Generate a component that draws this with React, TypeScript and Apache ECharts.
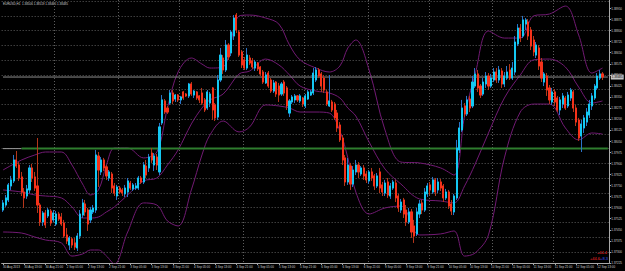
import React, { useEffect, useRef } from "react";
import * as echarts from "echarts";

const symbolTitle = "EURUSD,H1";
const timeLabels = [
  "30 Aug 2013", "30 Aug 13:00", "30 Aug 21:00", "2 Sep 05:00", "2 Sep 13:00", "2 Sep 21:00",
  "3 Sep 05:00", "3 Sep 13:00", "3 Sep 21:00", "4 Sep 05:00", "4 Sep 13:00", "4 Sep 21:00",
  "5 Sep 05:00", "5 Sep 13:00", "5 Sep 21:00", "6 Sep 05:00", "6 Sep 13:00", "6 Sep 21:00",
  "9 Sep 05:00", "9 Sep 13:00", "9 Sep 21:00", "10 Sep 05:00", "10 Sep 13:00", "10 Sep 21:00",
  "11 Sep 05:00", "11 Sep 13:00", "11 Sep 21:00", "12 Sep 05:00", "12 Sep 13:00",
];
const barsPerLabel = 8;
const slotCount = 229;

const open = [
  1.37584, 1.37618, 1.37652, 1.37747, 1.37781, 1.37923, 1.37889, 1.37808, 1.37706, 1.37679,
  1.3772, 1.37869, 1.37808, 1.37747, 1.37618, 1.37503, 1.37564, 1.37544, 1.37577, 1.37517,
  1.37489, 1.37557, 1.37537, 1.37496, 1.37415, 1.37347, 1.37388, 1.37361, 1.37327, 1.37408,
  1.3755, 1.37625, 1.37584, 1.37517, 1.37571, 1.37584, 1.3795, 1.37842, 1.37923, 1.37876,
  1.37801, 1.37828, 1.37747, 1.37679, 1.37733, 1.3772, 1.37693, 1.37706, 1.37767, 1.37727,
  1.37733, 1.37733, 1.37801, 1.37774, 1.37882, 1.37869, 1.3797, 1.37889, 1.37943, 1.37842,
  1.38174, 1.38323, 1.38275, 1.38309, 1.38377, 1.38336, 1.38363, 1.3833, 1.38384, 1.3837,
  1.38357, 1.38438, 1.38363, 1.38384, 1.38357, 1.38377, 1.3833, 1.38275, 1.38309, 1.38411,
  1.38296, 1.38214, 1.38465, 1.38614, 1.38533, 1.38702, 1.38648, 1.38763, 1.38905, 1.3879,
  1.38655, 1.38601, 1.38546, 1.38614, 1.38594, 1.38546, 1.3858, 1.38553, 1.38519, 1.38445,
  1.38512, 1.38465, 1.3839, 1.38451, 1.38424, 1.3837, 1.38451, 1.38411, 1.38241, 1.38316,
  1.3833, 1.38357, 1.38323, 1.38343, 1.38289, 1.38336, 1.38363, 1.38377, 1.38465, 1.38533,
  1.38506, 1.38478, 1.38384, 1.38289, 1.38316, 1.38302, 1.38241, 1.3816, 1.38072, 1.37937,
  1.37774, 1.37882, 1.3776, 1.37842, 1.37889, 1.37828, 1.37869, 1.37828, 1.37781, 1.37842,
  1.37815, 1.37747, 1.37842, 1.37754, 1.37699, 1.37774, 1.37679, 1.37733, 1.37767, 1.37679,
  1.37584, 1.37652, 1.37584, 1.37503, 1.37571, 1.37476, 1.37422, 1.37557, 1.37632, 1.37584,
  1.37693, 1.37754, 1.37706, 1.37788, 1.3772, 1.37774, 1.37747, 1.37666, 1.37706, 1.37625,
  1.37571, 1.37666, 1.37991, 1.38126, 1.38289, 1.38235, 1.38336, 1.38289, 1.38424, 1.38506,
  1.38424, 1.3837, 1.38438, 1.38492, 1.38424, 1.38465, 1.38519, 1.38465, 1.38526, 1.38438,
  1.38478, 1.38533, 1.38478, 1.38519, 1.38709, 1.38817, 1.38763, 1.38844, 1.38858, 1.38804,
  1.38736, 1.38634, 1.38682, 1.38587, 1.38451, 1.38492, 1.38411, 1.38316, 1.38384, 1.38343,
  1.38262, 1.38302, 1.38343, 1.38289, 1.38343, 1.38384, 1.38275, 1.38194, 1.38086, 1.3814,
  1.3818, 1.38228, 1.38289, 1.38343, 1.38411, 1.38478, 1.38506,
];
const close = [
  1.37632, 1.37666, 1.37754, 1.37788, 1.37923, 1.37882, 1.37801, 1.37706, 1.37666, 1.37727,
  1.37869, 1.37801, 1.37733, 1.37618, 1.37503, 1.37564, 1.37483, 1.37584, 1.37496, 1.37564,
  1.37557, 1.37523, 1.37489, 1.37408, 1.37374, 1.37395, 1.37347, 1.37333, 1.37408, 1.37557,
  1.37632, 1.37571, 1.37489, 1.37584, 1.37598, 1.37957, 1.37855, 1.37923, 1.37869, 1.37815,
  1.37842, 1.37733, 1.37699, 1.3774, 1.37706, 1.37699, 1.37733, 1.37781, 1.37733, 1.37754,
  1.37747, 1.37801, 1.37774, 1.37889, 1.37821, 1.37943, 1.37923, 1.3795, 1.37889, 1.38147,
  1.3833, 1.38248, 1.38248, 1.38377, 1.38323, 1.38363, 1.3833, 1.3835, 1.38343, 1.38357,
  1.38438, 1.3837, 1.3839, 1.38343, 1.3833, 1.38309, 1.38262, 1.38384, 1.3837, 1.38262,
  1.38208, 1.38465, 1.38634, 1.38533, 1.38702, 1.38621, 1.3879, 1.38885, 1.38804, 1.38634,
  1.38567, 1.38546, 1.38634, 1.3858, 1.38553, 1.38587, 1.3854, 1.38506, 1.38451, 1.38499,
  1.38424, 1.3839, 1.38445, 1.3837, 1.38363, 1.38438, 1.38377, 1.38289, 1.38323, 1.3835,
  1.38357, 1.3833, 1.38357, 1.38302, 1.38357, 1.38384, 1.38384, 1.38512, 1.38533, 1.38492,
  1.38424, 1.38397, 1.38302, 1.38323, 1.38262, 1.38208, 1.3814, 1.38059, 1.37923, 1.37774,
  1.37889, 1.3776, 1.37855, 1.37889, 1.37842, 1.37869, 1.37815, 1.37788, 1.37842, 1.37801,
  1.37747, 1.37815, 1.37733, 1.37706, 1.37767, 1.37686, 1.37747, 1.37774, 1.37666, 1.37598,
  1.37638, 1.37557, 1.37503, 1.37571, 1.37435, 1.37408, 1.37571, 1.37625, 1.37584, 1.37706,
  1.37747, 1.3772, 1.37788, 1.37706, 1.37774, 1.37733, 1.37666, 1.37706, 1.37611, 1.37577,
  1.37679, 1.38004, 1.3814, 1.38275, 1.38235, 1.3833, 1.38275, 1.38451, 1.38506, 1.38411,
  1.38363, 1.38451, 1.38492, 1.38424, 1.38478, 1.38519, 1.38465, 1.38533, 1.38438, 1.38492,
  1.38519, 1.38478, 1.38546, 1.38722, 1.38817, 1.38749, 1.38872, 1.38872, 1.38763, 1.38695,
  1.38655, 1.38702, 1.3856, 1.38478, 1.38506, 1.38397, 1.3833, 1.38384, 1.38316, 1.38262,
  1.3833, 1.38357, 1.38275, 1.38363, 1.38397, 1.38275, 1.3818, 1.38072, 1.38167, 1.38208,
  1.38248, 1.38302, 1.38357, 1.38424, 1.38492, 1.38506, 1.38485,
];
const low = [
  1.37571, 1.37605, 1.37638, 1.3772, 1.37767, 1.37869, 1.37781, 1.37679, 1.37598, 1.37659,
  1.37699, 1.37774, 1.37713, 1.37564, 1.37476, 1.37476, 1.37462, 1.3753, 1.37476, 1.37503,
  1.37476, 1.3751, 1.37476, 1.37395, 1.37354, 1.37313, 1.37327, 1.37313, 1.37306, 1.37388,
  1.3753, 1.37544, 1.37442, 1.37496, 1.37557, 1.37564, 1.3774, 1.37821, 1.37848, 1.37788,
  1.37781, 1.37699, 1.37679, 1.37652, 1.37693, 1.37679, 1.37672, 1.37672, 1.3772, 1.37713,
  1.3772, 1.3772, 1.3776, 1.3776, 1.37801, 1.37842, 1.37903, 1.37848, 1.37855, 1.37821,
  1.3816, 1.38235, 1.38235, 1.38296, 1.38302, 1.38316, 1.38316, 1.38302, 1.3833, 1.3835,
  1.38343, 1.38357, 1.38343, 1.3833, 1.38309, 1.38296, 1.38248, 1.38262, 1.38282, 1.38194,
  1.38187, 1.38194, 1.38451, 1.38506, 1.38519, 1.38601, 1.38627, 1.38736, 1.38783, 1.38621,
  1.38546, 1.38533, 1.38533, 1.38567, 1.3854, 1.38526, 1.38526, 1.38492, 1.38438, 1.38438,
  1.38411, 1.38377, 1.38377, 1.3835, 1.38316, 1.38357, 1.38357, 1.38262, 1.38214, 1.38302,
  1.38309, 1.38316, 1.38309, 1.38282, 1.38275, 1.3833, 1.38357, 1.38363, 1.38451, 1.38478,
  1.38384, 1.38377, 1.38289, 1.38282, 1.38248, 1.38194, 1.38113, 1.38045, 1.37889, 1.37747,
  1.37754, 1.3772, 1.3774, 1.37821, 1.37801, 1.37815, 1.37788, 1.37767, 1.3776, 1.37781,
  1.3772, 1.37733, 1.37699, 1.37679, 1.37679, 1.37666, 1.37659, 1.3772, 1.37638, 1.37571,
  1.37564, 1.3753, 1.37476, 1.37489, 1.37395, 1.37361, 1.37408, 1.3753, 1.37557, 1.37571,
  1.37672, 1.37686, 1.37693, 1.37679, 1.37699, 1.37713, 1.37638, 1.37652, 1.37591, 1.3755,
  1.3755, 1.37652, 1.3797, 1.38113, 1.38214, 1.38221, 1.38248, 1.38275, 1.38411, 1.38384,
  1.38343, 1.38357, 1.38411, 1.38397, 1.38411, 1.38451, 1.38445, 1.38445, 1.38411, 1.38417,
  1.38465, 1.38465, 1.38465, 1.38499, 1.38695, 1.38722, 1.38749, 1.38804, 1.38736, 1.38668,
  1.38627, 1.38614, 1.38533, 1.38451, 1.38424, 1.38357, 1.38302, 1.38296, 1.38289, 1.38248,
  1.38228, 1.38275, 1.38262, 1.38275, 1.38323, 1.38248, 1.38153, 1.38052, 1.37977, 1.38106,
  1.38153, 1.38208, 1.38262, 1.3833, 1.38397, 1.38465, 1.38465,
];
const high = [
  1.37652, 1.37686, 1.37767, 1.37815, 1.37957, 1.37984, 1.37909, 1.37842, 1.37733, 1.37754,
  1.37889, 1.37896, 1.37842, 1.38072, 1.37632, 1.37577, 1.37584, 1.37598, 1.37591, 1.37584,
  1.37577, 1.37571, 1.37564, 1.37517, 1.37462, 1.37408, 1.37401, 1.37395, 1.37428, 1.37584,
  1.37659, 1.37652, 1.37598, 1.37605, 1.37618, 1.37991, 1.37977, 1.37943, 1.37937, 1.37889,
  1.37855, 1.37842, 1.37767, 1.37754, 1.37747, 1.37733, 1.37754, 1.37801, 1.37781, 1.37767,
  1.37767, 1.37815, 1.37815, 1.37909, 1.37923, 1.37964, 1.38004, 1.3797, 1.37964, 1.38174,
  1.38363, 1.38336, 1.38289, 1.38397, 1.38397, 1.3837, 1.3837, 1.38357, 1.3839, 1.38377,
  1.38445, 1.38451, 1.38397, 1.3839, 1.38363, 1.38411, 1.38343, 1.38397, 1.38384, 1.38417,
  1.38309, 1.38499, 1.38682, 1.38634, 1.38736, 1.38715, 1.38804, 1.38905, 1.38919, 1.38804,
  1.38668, 1.38621, 1.38682, 1.38634, 1.38614, 1.38601, 1.38587, 1.3856, 1.38533, 1.38519,
  1.38526, 1.38478, 1.38465, 1.38458, 1.38445, 1.38451, 1.38465, 1.38424, 1.38336, 1.38363,
  1.3837, 1.38363, 1.3837, 1.3835, 1.3837, 1.38397, 1.38397, 1.38546, 1.38553, 1.38546,
  1.38519, 1.38499, 1.38397, 1.38499, 1.3833, 1.38316, 1.38262, 1.3818, 1.38092, 1.37957,
  1.37937, 1.37903, 1.37882, 1.37923, 1.37909, 1.37882, 1.37889, 1.37848, 1.37855, 1.37869,
  1.37828, 1.37835, 1.37869, 1.37774, 1.37788, 1.37801, 1.37767, 1.37788, 1.37788, 1.37693,
  1.37659, 1.37666, 1.37618, 1.37598, 1.37591, 1.37517, 1.37598, 1.37652, 1.37652, 1.37733,
  1.37767, 1.37774, 1.37808, 1.37801, 1.37801, 1.37794, 1.3776, 1.37727, 1.3772, 1.37652,
  1.37693, 1.38059, 1.3818, 1.3833, 1.38309, 1.38357, 1.38357, 1.38492, 1.38546, 1.38533,
  1.38438, 1.38478, 1.38519, 1.38512, 1.38506, 1.38546, 1.38546, 1.3856, 1.38546, 1.38519,
  1.3856, 1.38573, 1.38587, 1.38763, 1.38844, 1.38844, 1.38899, 1.38885, 1.38878, 1.38824,
  1.38763, 1.38722, 1.38702, 1.38614, 1.38519, 1.38512, 1.38431, 1.38411, 1.38404, 1.38357,
  1.3835, 1.38377, 1.38357, 1.38384, 1.38411, 1.38397, 1.38296, 1.38208, 1.38194, 1.38228,
  1.38275, 1.3833, 1.38377, 1.38438, 1.38512, 1.38533, 1.38519,
];

// Bollinger band values read at sampled bars
const bandIdx = [
  0, 7, 12, 16, 22, 26, 30, 33, 36, 39, 42, 47, 53, 58, 62, 66, 71, 75, 78, 83, 89, 93, 99,
  104, 108, 112, 118, 123, 127, 130, 133, 138, 144, 150, 157, 165, 170, 174, 178, 183, 189,
  195, 200, 206, 212, 217, 222, 226,
];
const bandUpper = [
  1.37855, 1.37923, 1.37957, 1.37977, 1.37977, 1.37889, 1.3776, 1.37686, 1.3772, 1.37889,
  1.38004, 1.38004, 1.37937, 1.37977, 1.38275, 1.38519, 1.38614, 1.38573, 1.38546, 1.38553,
  1.38899, 1.38905, 1.38885, 1.38844, 1.38702, 1.38601, 1.38546, 1.38519, 1.3856, 1.38682,
  1.38736, 1.38533, 1.38126, 1.37909, 1.37903, 1.37869, 1.37821, 1.38221, 1.38506, 1.38797,
  1.38749, 1.38749, 1.38899, 1.38912, 1.38966, 1.3877, 1.38512, 1.38546,
];
const bandMiddle = [
  1.3772, 1.37706, 1.37686, 1.37679, 1.37666, 1.37605, 1.3753, 1.3753, 1.37537, 1.37571,
  1.37605, 1.37686, 1.37781, 1.37801, 1.37889, 1.37991, 1.38167, 1.38275, 1.3833, 1.3837,
  1.38506, 1.38526, 1.38607, 1.38567, 1.38499, 1.38424, 1.3839, 1.38377, 1.38343, 1.38275,
  1.38221, 1.38045, 1.37862, 1.3776, 1.37659, 1.37645, 1.37632, 1.37747, 1.37896, 1.38106,
  1.38343, 1.38499, 1.38601, 1.38607, 1.38553, 1.38417, 1.38309, 1.38323,
];
const bandLower = [
  1.37435, 1.37428, 1.37401, 1.37381, 1.37361, 1.37272, 1.37286, 1.37313, 1.37313, 1.37272,
  1.37218, 1.37435, 1.37632, 1.37618, 1.3751, 1.37476, 1.3772, 1.37957, 1.38092, 1.38187,
  1.38113, 1.38147, 1.38296, 1.38289, 1.38275, 1.38248, 1.38248, 1.38241, 1.38119, 1.37937,
  1.37706, 1.37557, 1.37598, 1.37611, 1.37415, 1.37422, 1.37442, 1.37272, 1.37293, 1.37415,
  1.37937, 1.38248, 1.38302, 1.38302, 1.3814, 1.38059, 1.38106, 1.38099,
];

const levelPrice = 1.38;
const levelStartBar = 7;
const indicatorLine1 = "+44.4";
const indicatorLine2a = "+44.6";
const indicatorLine2b = "+8.3";

const priceMin = 1.37225;
const priceMax = 1.39007;
const labelStep = 0.00075;
const gridStep = 0.001;
const gridLineBars = [20, 44, 67, 91, 114, 138, 161, 185, 208];

const BULL = "#14c8f2";
const BEAR = "#f5321a";
const BULL_WICK = "#2a74c8";
const BEAR_WICK = "#b5361a";
const BAND = "#721a74";
const GRIDC = "#5e5e5e";
const AXISC = "#a8a8a8";
const TEXTC = "#cfcfcf";
const FONT = "Liberation Sans";

export default function App() {
  const ref = useRef<HTMLDivElement>(null);
  useEffect(() => {
    if (!ref.current) return;
    const chart = echarts.init(ref.current, null, { renderer: "svg" });
    const categories = Array.from({ length: slotCount }, (_, i) => `b${i}`);
    const full = open.map((o, i) => [o, close[i], low[i], high[i]]);
    const bodies = open.map((o, i) => [o, close[i], Math.min(o, close[i]), Math.max(o, close[i])]);
    const last = open.length - 1;
    const lastClose = close[last];
    const titleText = `${symbolTitle}  ${open[last].toFixed(5)} ${high[last].toFixed(5)} ${low[last].toFixed(5)} ${lastClose.toFixed(5)}`;
    const band = (vals: number[]) => bandIdx.map((b, k) => [b, vals[k]]);
    const bandSeries = (name: string, vals: number[]) => ({
      name,
      type: "line",
      xAxisIndex: 0,
      yAxisIndex: 1,
      data: band(vals),
      smooth: 0.35,
      symbol: "none",
      lineStyle: { color: BAND, width: 1 },
      z: 1,
      silent: true,
    });
    const hLine = (name: string, from: number, to: number, price: number, color: string, width: number, z: number, extra: any = {}) => ({
      name,
      type: "line",
      xAxisIndex: 0,
      yAxisIndex: 1,
      data: [[from, price], [to, price]],
      symbol: "none",
      lineStyle: { color, width, type: "solid" },
      z,
      silent: true,
      ...extra,
    });

    const option: any = {
      animation: false,
      backgroundColor: "#000",
      textStyle: { fontFamily: FONT },
      grid: { left: 1, right: 15, top: 0, bottom: 8 },
      xAxis: [
        {
          type: "category",
          data: categories,
          boundaryGap: true,
          axisLine: { show: true, lineStyle: { color: AXISC, width: 1 } },
          axisTick: { show: true, interval: barsPerLabel - 1, alignWithLabel: true, length: 2, lineStyle: { color: AXISC } },
          axisLabel: {
            show: true,
            interval: barsPerLabel - 1,
            align: "left",
            margin: 2,
            fontSize: 3,
            color: TEXTC,
            fontFamily: FONT,
            formatter: (_v: string, idx: number) => timeLabels[idx / barsPerLabel] ?? "",
          },
          splitLine: {
            show: true,
            interval: (idx: number) => gridLineBars.includes(idx),
            lineStyle: { color: GRIDC, type: [1, 2], width: 1 },
          },
        },
      ],
      yAxis: [
        {
          type: "value",
          position: "right",
          min: priceMin,
          max: priceMax,
          interval: labelStep,
          axisLine: { show: true, lineStyle: { color: AXISC, width: 1 } },
          axisTick: { show: true, length: 2, lineStyle: { color: AXISC } },
          axisLabel: {
            show: true,
            margin: 2,
            fontSize: 3,
            color: TEXTC,
            fontFamily: FONT,
            showMaxLabel: false,
            formatter: (v: number) => v.toFixed(5),
          },
          splitLine: { show: false },
        },
        {
          type: "value",
          position: "right",
          min: priceMin,
          max: priceMax,
          splitNumber: 18,
          minInterval: gridStep,
          maxInterval: gridStep,
          axisLine: { show: false },
          axisTick: { show: false },
          axisLabel: { show: false },
          splitLine: {
            show: true,
            showMinLine: false,
            showMaxLine: false,
            lineStyle: { color: GRIDC, type: [1, 2], width: 1 },
          },
        },
      ],
      series: [
        bandSeries("upper", bandUpper),
        bandSeries("middle", bandMiddle),
        bandSeries("lower", bandLower),
        hLine("levelGray", 0, levelStartBar, levelPrice, "#9a9a9a", 1, 2),
        hLine("levelGreen", levelStartBar, slotCount - 1, levelPrice, "#2e7d2e", 2, 2),
        hLine("bid", 0, slotCount - 1, lastClose, "#8e8e8e", 1, 2, {
          endLabel: {
            show: true,
            distance: 3,
            formatter: () => lastClose.toFixed(5),
            backgroundColor: "#c4c4c4",
            color: "#000",
            fontSize: 3,
            fontFamily: FONT,
            padding: [1, 1, 1, 1],
          },
        }),
        {
          name: "wicks",
          type: "candlestick",
          xAxisIndex: 0,
          yAxisIndex: 0,
          data: full,
          barWidth: 1.6,
          itemStyle: {
            color: BULL_WICK,
            color0: BEAR_WICK,
            borderColor: BULL_WICK,
            borderColor0: BEAR_WICK,
            borderColorDoji: BULL_WICK,
            borderWidth: 1,
          },
          silent: true,
          z: 3,
        },
        {
          name: "bodies",
          type: "candlestick",
          xAxisIndex: 0,
          yAxisIndex: 0,
          data: bodies,
          barWidth: 1.6,
          itemStyle: {
            color: BULL,
            color0: BEAR,
            borderColor: BULL,
            borderColor0: BEAR,
            borderColorDoji: BULL,
            borderWidth: 1,
          },
          silent: true,
          z: 4,
        },
      ],
      graphic: [
        {
          type: "text",
          left: 3,
          top: 2,
          silent: true,
          style: { text: titleText, fill: TEXTC, fontSize: 3, fontFamily: FONT },
        },
        {
          type: "text",
          right: 18,
          top: 250,
          silent: true,
          style: { text: indicatorLine1, fill: "#ff2a2a", fontSize: 4, fontFamily: FONT },
        },
        {
          type: "text",
          right: 25,
          top: 256,
          silent: true,
          style: { text: indicatorLine2a, fill: "#ff2a2a", fontSize: 4, fontFamily: FONT },
        },
        {
          type: "text",
          right: 17,
          top: 256,
          silent: true,
          style: { text: indicatorLine2b, fill: "#3a5cff", fontSize: 4, fontFamily: FONT },
        },
      ],
    };
    chart.setOption(option);
    return () => chart.dispose();
  }, []);
  return (
    <div
      ref={ref}
      style={{ position: "fixed", left: 0, top: 0, width: 625, height: 271, background: "#000" }}
    />
  );
}
